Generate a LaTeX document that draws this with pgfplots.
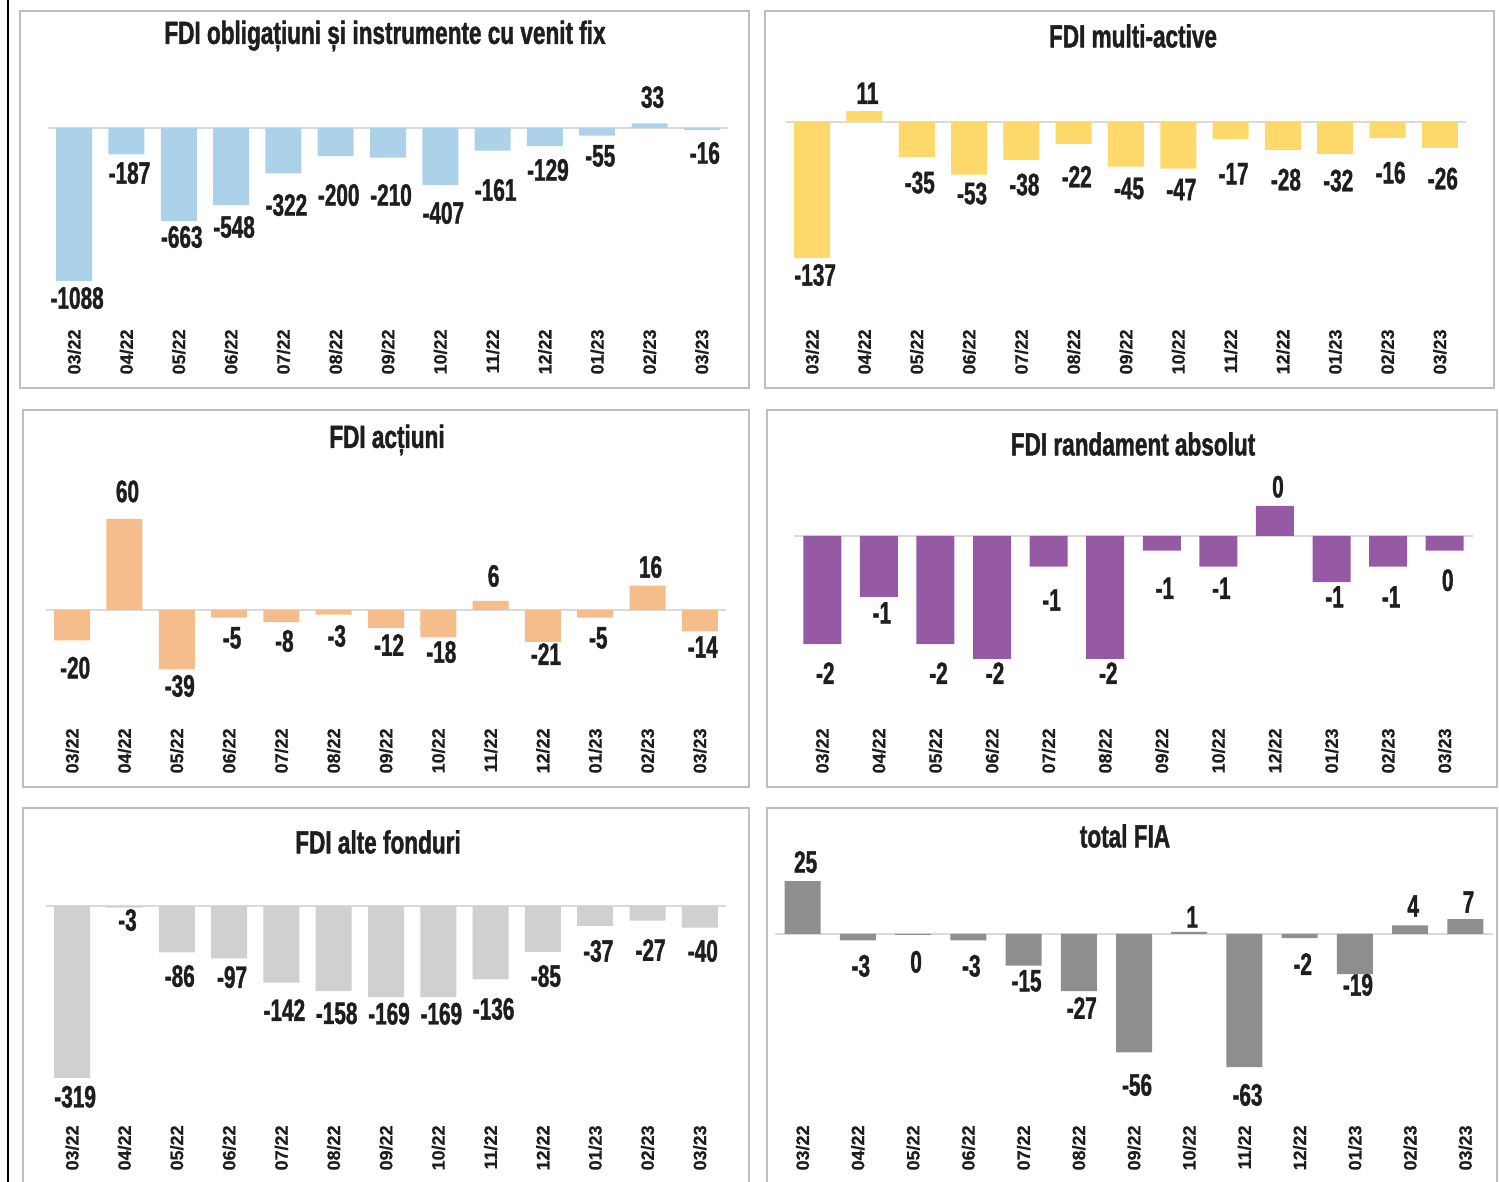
\documentclass[border=0pt]{standalone}
\usepackage{fontspec}
\setmainfont{Liberation Sans}
\newfontfamily\cond{Liberation Sans Bold}[FakeStretch=0.67, FakeBold=1.2]
\newfontfamily\condt{Liberation Sans Bold}[FakeStretch=0.705, FakeBold=1.3]
\newfontfamily\tickf{Liberation Sans Bold}[FakeBold=0.4]
\usepackage{pgfplots}
\usepackage{pgfplotstable}
\pgfplotsset{compat=1.18}

\definecolor{cblue}{RGB}{172,210,233}
\definecolor{cyellow}{RGB}{253,216,106}
\definecolor{corange}{RGB}{245,188,140}
\definecolor{cpurple}{RGB}{150,89,164}
\definecolor{clgray}{RGB}{208,208,208}
\definecolor{cdgray}{RGB}{142,142,142}
\definecolor{frm}{RGB}{190,190,190}
\definecolor{zeroc}{RGB}{218,218,218}
\definecolor{txt}{RGB}{30,30,30}

\pgfplotstableread{
x y ly lab
0 -1088 -1209 -1088
1 -187 -320 -187
2 -663 -775 -663
3 -548 -704 -548
4 -322 -548 -322
5 -200 -477 -200
6 -210 -477 -210
7 -407 -605 -407
8 -161 -441 -161
9 -129 -299 -129
10 -55 -199 -55
11 33 220 33
12 -16 -178 -16
}\tA
\pgfplotstableread{
x y ly lab
0 -137 -154 -137
1 11 29 11
2 -35 -61 -35
3 -53 -72 -53
4 -38 -63 -38
5 -22 -55 -22
6 -45 -67 -45
7 -47 -68 -47
8 -17 -52 -17
9 -28 -58 -28
10 -32 -59 -32
11 -16 -51 -16
12 -26 -57 -26
}\tB
\pgfplotstableread{
x y ly lab
0 -20 -38 -20
1 60 78 60
2 -39 -50 -39
3 -5 -18.4 -5
4 -8 -20.4 -8
5 -3 -17.1 -3
6 -12 -23 -12
7 -18 -27.6 -18
8 6 22.4 6
9 -21 -29 -21
10 -5 -18.4 -5
11 16 28.3 16
12 -14 -24.3 -14
}\tC
\pgfplotstableread{
x y ly lab
0 -1.76 -2.23 -2
1 -0.99 -1.25 -1
2 -1.76 -2.23 -2
3 -2.0 -2.23 -2
4 -0.5 -1.04 -1
5 -2.0 -2.23 -2
6 -0.24 -0.85 -1
7 -0.5 -0.85 -1
8 0.49 0.80 0
9 -0.75 -0.99 -1
10 -0.5 -0.99 -1
11 -0.24 -0.72 0
}\tD
\pgfplotstableread{
x y ly lab
0 -319 -354 -319
1 -3 -26 -3
2 -86 -130 -86
3 -97 -132 -97
4 -142 -193 -142
5 -158 -199 -158
6 -169 -200 -169
7 -169 -200 -169
8 -136 -191 -136
9 -85 -130 -85
10 -37 -83.5 -37
11 -27 -81.6 -27
12 -40 -83.5 -40
}\tE
\pgfplotstableread{
x y ly lab
0 25 34 25
1 -3 -15.1 -3
2 -0.4 -13.2 0
3 -3 -15.1 -3
4 -15 -22.2 -15
5 -27 -35 -27
6 -56 -71.4 -56
7 1 8 1
8 -63 -76.1 -63
9 -2 -14.2 -2
10 -19 -24.1 -19
11 4 13.2 4
12 7 15.1 7
}\tF

\pgfplotsset{
 panel/.style={
  scale only axis, anchor=south west, clip=false,
  axis line style={draw=none}, major tick length=0pt,
  ytick=\empty, xtick={0,...,12},
  xmin=-0.5, xmax=12.5,
  xticklabels={03/22,04/22,05/22,06/22,07/22,08/22,09/22,10/22,11/22,12/22,01/23,02/23,03/23},
  xticklabel style={rotate=90, anchor=east, font=\tickf\fontsize{9}{9}\selectfont, text=txt, inner sep=1.5pt},
  extra y ticks={0}, extra y tick labels={},
  extra y tick style={grid=major, major tick length=0pt, major grid style={draw=zeroc, line width=1.2pt}},
 },
 lbl/.style={draw=none, mark=none, nodes near coords, point meta=explicit symbolic,
  nodes near coords align=center,
  every node near coord/.append style={font=\cond\fontsize{15.5}{16}\selectfont, text=txt, inner sep=0pt, xshift=1.5pt}},
}
\newcommand{\ttl}{\condt\fontsize{16}{17}\selectfont}

\begin{document}
\begin{tikzpicture}
\path[use as bounding box] (0pt,0pt) rectangle (749.5pt,591pt);
\draw[black, line width=1pt] (4pt,0pt) -- (4pt,591pt);
\draw[frm, line width=1pt] (10pt,585.5pt) rectangle (374.5pt,397pt);
\draw[frm, line width=1pt] (382.5pt,585.5pt) rectangle (747pt,397pt);
\draw[frm, line width=1pt] (11.5pt,386pt) rectangle (374.5pt,197.5pt);
\draw[frm, line width=1pt] (383.5pt,386pt) rectangle (748.5pt,197.5pt);
\draw[frm, line width=1pt] (11.5pt,-10pt) -- (11.5pt,187pt) -- (374.5pt,187pt) -- (374.5pt,-10pt);
\draw[frm, line width=1pt] (383.5pt,-10pt) -- (383.5pt,187pt) -- (748.5pt,187pt) -- (748.5pt,-10pt);

\node[font=\ttl, text=txt] at (192.5pt,573pt) {FDI obligațiuni și instrumente cu venit fix};
\node[font=\ttl, text=txt] at (566.5pt,573pt) {FDI multi-active};
\node[font=\ttl, text=txt] at (193.5pt,371pt) {FDI acțiuni};
\node[font=\ttl, text=txt] at (566.5pt,369pt) {FDI randament absolut};
\node[font=\ttl, text=txt] at (189pt,170pt) {FDI alte fonduri};
\node[font=\ttl, text=txt] at (562.5pt,173pt) {total FIA};

\begin{axis}[panel, at={(24pt,428pt)}, width=340pt, height=128pt, ymin=-1408, ymax=412.5]
\addplot[ybar, bar width=18pt, fill=cblue, draw=none] table[x=x,y=y]{\tA};
\addplot[lbl] table[x=x,y=ly,meta=lab]{\tA};
\end{axis}

\begin{axis}[panel, at={(393pt,428pt)}, width=340pt, height=128pt, ymin=-205.4, ymax=52.4]
\addplot[ybar, bar width=18pt, fill=cyellow, draw=none] table[x=x,y=y]{\tB};
\addplot[lbl] table[x=x,y=ly,meta=lab]{\tB};
\end{axis}

\begin{axis}[panel, at={(23pt,228.5pt)}, width=340pt, height=127.5pt, ymin=-75.66, ymax=92.1]
\addplot[ybar, bar width=18pt, fill=corange, draw=none] table[x=x,y=y]{\tC};
\addplot[lbl] table[x=x,y=ly,meta=lab]{\tC};
\end{axis}

\begin{axis}[panel, at={(397pt,228.5pt)}, width=339.5pt, height=127.5pt, ymin=-3.073, ymax=1.073,
  xmax=11.5, xtick={0,...,11},
  xticklabels={03/22,04/22,05/22,06/22,07/22,08/22,09/22,10/22,12/22,01/23,02/23,03/23}]
\addplot[ybar, bar width=19pt, fill=cpurple, draw=none] table[x=x,y=y]{\tD};
\addplot[lbl] table[x=x,y=ly,meta=lab]{\tD};
\end{axis}

\begin{axis}[panel, at={(23pt,30pt)}, width=340pt, height=126pt, ymin=-400.7, ymax=66.8]
\addplot[ybar, bar width=18pt, fill=clgray, draw=none] table[x=x,y=y]{\tE};
\addplot[lbl] table[x=x,y=ly,meta=lab]{\tE};
\end{axis}

\begin{axis}[panel, at={(387.5pt,30pt)}, width=359pt, height=136pt, ymin=-88.9, ymax=39.7]
\addplot[ybar, bar width=18pt, fill=cdgray, draw=none] table[x=x,y=y]{\tF};
\addplot[lbl] table[x=x,y=ly,meta=lab]{\tF};
\end{axis}
\end{tikzpicture}
\end{document}
